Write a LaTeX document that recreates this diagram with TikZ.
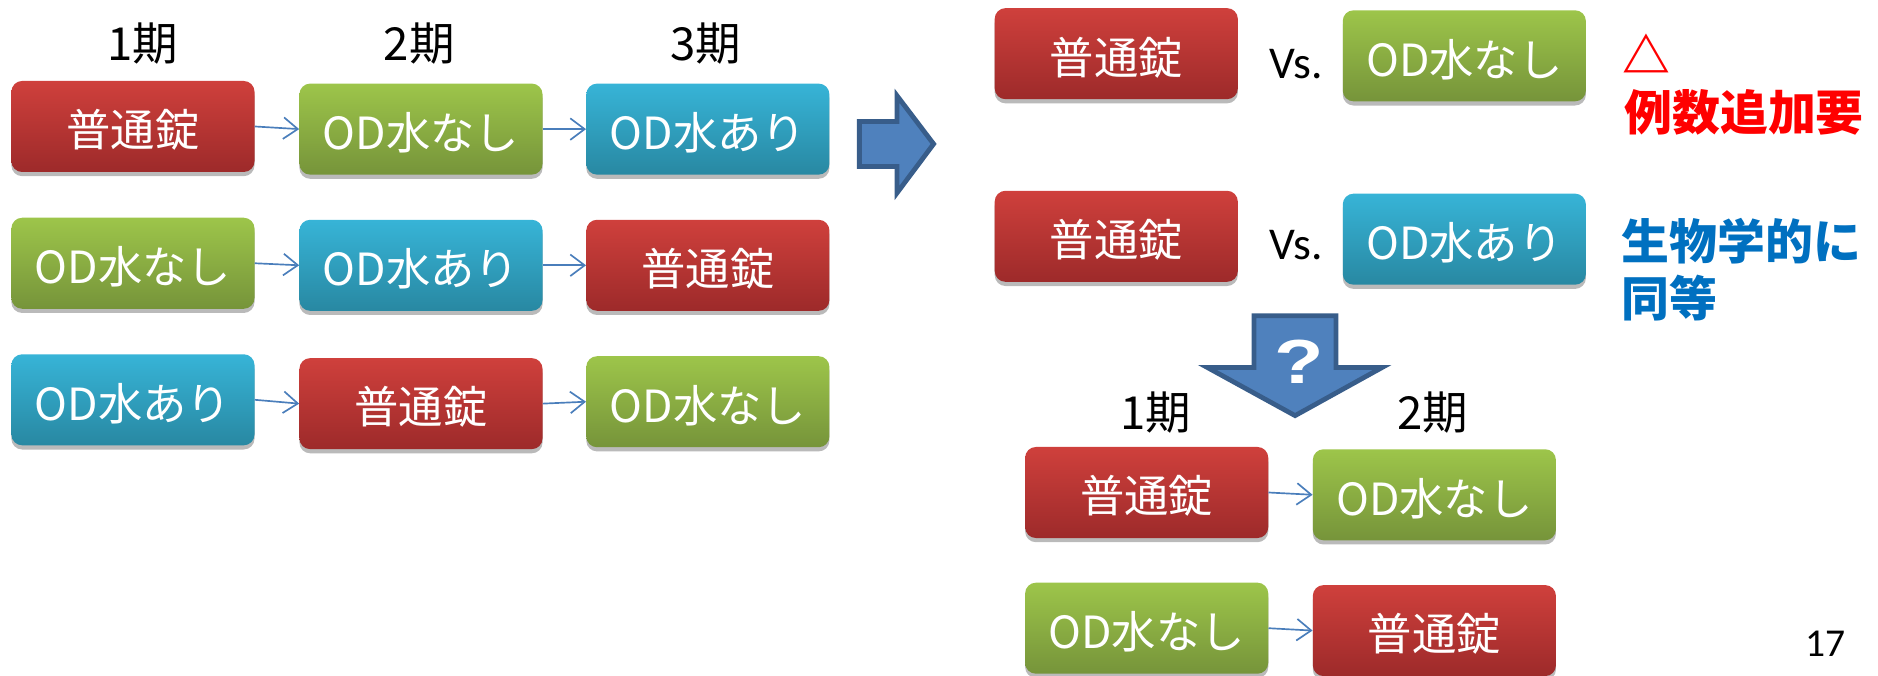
\documentclass[tikz,border=0pt]{standalone}
\usepackage{fontspec}
\usetikzlibrary{shadows,arrows.meta}
\newfontfamily\jp{Noto Sans CJK JP}
\newfontfamily\calfont{Carlito}
\newfontfamily\qfont{Liberation Sans}
\definecolor{rtop}{RGB}{207,64,60}
\definecolor{rbot}{RGB}{157,42,42}
\definecolor{gtop}{RGB}{157,197,74}
\definecolor{gbot}{RGB}{118,148,58}
\definecolor{btop}{RGB}{55,180,215}
\definecolor{bbot}{RGB}{40,136,162}
\definecolor{arrowfill}{RGB}{79,129,189}
\definecolor{arrowedge}{RGB}{56,93,138}
\definecolor{connblue}{RGB}{74,126,187}
\definecolor{txtred}{RGB}{255,0,0}
\definecolor{txtblue}{RGB}{0,112,192}
\begin{document}
\begin{tikzpicture}[x=1pt,y=1pt,
  pbox/.style={rounded corners=9pt, minimum width=203pt, minimum height=76pt, inner sep=0pt,
    text=white, font=\jp\fontsize{37}{42}\selectfont, text height=34pt, text depth=0pt,
    drop shadow={shadow xshift=0pt, shadow yshift=-3.5pt, opacity=0.45, fill=black!60}},
  redbox/.style={pbox, top color=rtop, bottom color=rbot},
  greenbox/.style={pbox, top color=gtop, bottom color=gbot},
  bluebox/.style={pbox, top color=btop, bottom color=bbot},
  conn/.style={draw=connblue, line width=1.4pt, -{Straight Barb[length=12pt,width=18pt]}},
  period/.style={font=\jp\fontsize{38}{42}\selectfont, inner sep=0pt},
  vslabel/.style={font=\calfont\fontsize{38}{40}\selectfont, inner sep=0pt, anchor=base},
  bigarrow/.style={fill=arrowfill, draw=arrowedge, line width=4pt, line join=miter},
  redtxt/.style={text=txtred, font=\jp\bfseries\fontsize{40}{44}\selectfont, inner sep=0pt, anchor=west},
  bluetxt/.style={text=txtblue, font=\jp\bfseries\fontsize{40}{44}\selectfont, inner sep=0pt, anchor=west},
]
\useasboundingbox (0,0) rectangle (1568,-564);
\clip (0,0) rectangle (1568,-564);

% headers left
\node[period] (h1) at (119,-36) {1期};
\node[period] (h2) at (350,-36) {2期};
\node[period] (h3) at (589.5,-36) {3期};

% left grid
\node[redbox]   (a11) at (111,-105.6) {普通錠};
\node[greenbox] (a12) at (351.5,-107.8) {OD水なし};
\node[bluebox]  (a13) at (591,-107.8) {OD水あり};
\node[greenbox] (a21) at (111,-219.8) {OD水なし};
\node[bluebox]  (a22) at (351.5,-221.5) {OD水あり};
\node[redbox]   (a23) at (591,-221.5) {普通錠};
\node[bluebox]  (a31) at (111,-333.8) {OD水あり};
\node[redbox]   (a32) at (351.5,-337) {普通錠};
\node[greenbox] (a33) at (591,-335.4) {OD水なし};

\draw[conn] (a11.east) -- (a12.west);
\draw[conn] (a12.east) -- (a13.west);
\draw[conn] (a21.east) -- (a22.west);
\draw[conn] (a22.east) -- (a23.west);
\draw[conn] (a31.east) -- (a32.west);
\draw[conn] (a32.east) -- (a33.west);

% big right arrow
\draw[bigarrow] (717.5,-101.4) -- (749,-101.4) -- (749,-80) -- (779.5,-120.2)
  -- (749,-161) -- (749,-139) -- (717.5,-139) -- cycle;

% right comparisons
\node[redbox]   (c1) at (932,-44.8) {普通錠};
\node[vslabel]  (v1) at (1082.5,-65.4) {Vs.};
\node[greenbox] (c2) at (1222.6,-46.6) {OD水なし};
\node[redbox]   (c3) at (932,-197.3) {普通錠};
\node[vslabel]  (v2) at (1082.5,-217) {Vs.};
\node[bluebox]  (c4) at (1222.6,-199.7) {OD水あり};

\node[text=txtred, font=\jp\bfseries\fontsize{40}{44}\selectfont, inner sep=0pt] (tri) at (1375,-44.6) {△};
\node[redtxt] (r1) at (1356,-93.5) {例数追加要};
\node[bluetxt] (b1) at (1354,-201.7) {生物学的に};
\node[bluetxt] (b2) at (1354,-249) {同等};

% down arrow
\draw[bigarrow] (1047,-263.6) -- (1115.4,-263.6) -- (1115.4,-306.8) -- (1154,-306.8)
  -- (1081.3,-347) -- (1008,-306.8) -- (1047,-306.8) -- cycle;
\node[text=white, font=\qfont\bfseries\fontsize{52}{56}\selectfont, inner sep=0pt] (q) at (1085,-302) {\scalebox{1.3}[1]{?}};

% bottom right
\node[period] (p1) at (965,-344.5) {1期};
\node[period] (p2) at (1196,-344.5) {2期};
\node[redbox]   (d11) at (957.4,-411.2) {普通錠};
\node[greenbox] (d12) at (1197.6,-413.1) {OD水なし};
\node[greenbox] (d21) at (957.4,-524.5) {OD水なし};
\node[redbox]   (d22) at (1197.6,-526.5) {普通錠};
\draw[conn] (d11.east) -- (d12.west);
\draw[conn] (d21.east) -- (d22.west);

\node[font=\calfont\fontsize{33}{36}\selectfont, inner sep=0pt, anchor=base] (pg) at (1524,-548.3) {17};
\end{tikzpicture}
\end{document}
